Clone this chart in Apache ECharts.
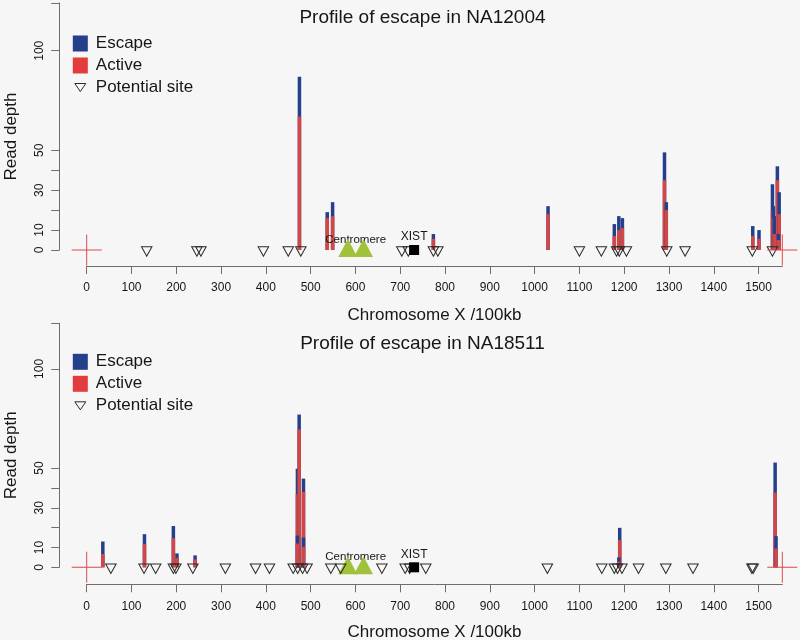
<!DOCTYPE html>
<html>
<head>
<meta charset="utf-8">
<script src="https://cdn.jsdelivr.net/npm/echarts@6/dist/echarts.min.js"></script>
<style>
html,body{margin:0;padding:0;background:#f6f6f6;}
#chart{width:800px;height:640px;}
</style>
</head>
<body>
<div id="chart"></div>
<script>
// ---------------- data ----------------
const panelTitles = ['Profile of escape in NA12004', 'Profile of escape in NA18511'];
const xAxisName = 'Chromosome X /100kb';
const yAxisName = 'Read depth';
const legendNames = ['Escape', 'Active', 'Potential site'];
const yTickValues = [0, 10, 20, 30, 40, 50, 100];
const yLabelValues = [0, 10, 30, 50, 100];
const chromStart = 0;
const chromEnd = 1553;
const centromere = [583, 618];
const centromereLabel = 'Centromere';
const xistPos = 731;
const xistLabel = 'XIST';

// NA12004 : bar position, total read depth (top of blue), active read depth (top of red)
const na12004Pos    = [475, 537, 549, 774, 1030, 1178, 1188, 1196, 1290, 1294, 1487, 1501, 1531, 1542, 1546, 1533, 1535, 1544];
const na12004Total  = [87, 19, 24, 8, 22, 13, 17, 16, 49, 24, 12, 10, 33, 42, 29, 22, 17, 8];
const na12004Active = [67, 16, 17, 5.6, 18, 7, 10, 11, 35, 20, 7, 5.6, 20, 35, 18, 16, 8, 5];
const na12004Sites  = [134, 246, 255, 394.5, 450, 478, 703.5, 718, 774, 784, 1100, 1149, 1183, 1189, 1205, 1295, 1336, 1486, 1531];

// NA18511
const na18511Pos    = [36, 129, 193.5, 201.5, 242, 470.5, 474.3, 484, 1190, 1537, 470.5, 484, 1188, 1539];
const na18511Total  = [13, 16.7, 20.8, 7, 6, 49.7, 77, 44.7, 19.9, 52.8, 16, 15, 5, 15.7];
const na18511Active = [6.7, 11.7, 14.7, 4.7, 4, 36.8, 69.5, 38, 13.7, 37.7, 12, 10.3, 2.8, 9.5];
const na18511Sites  = [54, 128, 154, 193.5, 199, 237, 309.6, 377, 408, 461, 471, 482, 492, 545, 567, 659, 711, 721, 757, 1028.5, 1150, 1178, 1185, 1195, 1232, 1293, 1353.6, 1485, 1488];

// ---------------- styles / layout ----------------
const FONT = '"Liberation Sans", Arial, Helvetica, sans-serif';
const BLUE = '#243f8b';
const RED_BAR = '#d24646';
const RED_LEG = '#e23c3c';
const GREEN = '#9fc23a';
const CROSS = '#e04848';
const AXIS_COL = '#6e6e6e';
const TEXT_COL = '#161616';
const DOWN_TRI = 'path://M0,0 L10,0 L5,9 Z';
const LEG_TRI = 'path://M0,0 M15,16 M2,4 L13,4 L7.5,12 Z';
const CROSS_PATH = 'path://M0,15 L30,15 M15,0 L15,30';

const layout = [
  {gridTop: 2.9, zeroY: 250, yMax: 124, xOffset: 16, xLabelMargin: 15.5, xNameGap: 40.5, legendTop: 35, titleY: 17.3},
  {gridTop: 323.3, zeroY: 567.3, yMax: 123, xOffset: 17, xLabelMargin: 16.5, xNameGap: 40, legendTop: 353.3, titleY: 343.3}
];
const GRID_LEFT = 86.7, GRID_RIGHT_X = 782.3, Y_AXIS_X = 59.3;

const panels = [
  {pos: na12004Pos, total: na12004Total, active: na12004Active, sites: na12004Sites},
  {pos: na18511Pos, total: na18511Total, active: na18511Active, sites: na18511Sites}
];

function renderBar(params, api) {
  const x = api.value(0), total = api.value(1), active = api.value(2);
  const base = api.coord([x, 0]);
  const top = api.coord([x, total]);
  const mid = api.coord([x, active]);
  const w = 3.5;
  return {
    type: 'group',
    children: [
      {type: 'rect', shape: {x: base[0] - w / 2, y: top[1], width: w, height: base[1] - top[1]}, style: {fill: BLUE}},
      {type: 'rect', shape: {x: base[0] - w / 2, y: mid[1], width: w, height: base[1] - mid[1]}, style: {fill: RED_BAR}}
    ]
  };
}

const grids = [], xAxes = [], yAxes = [], series = [], legends = [], graphics = [];

panels.forEach((p, i) => {
  const L = layout[i];
  grids.push({left: GRID_LEFT, width: GRID_RIGHT_X - GRID_LEFT, top: L.gridTop, height: L.zeroY - L.gridTop,
              containLabel: false, outerBoundsMode: 'none', show: false});
  xAxes.push({
    type: 'value', gridIndex: i, min: chromStart, max: chromEnd, interval: 100, position: 'bottom',
    offset: L.xOffset,
    name: xAxisName, nameLocation: 'middle', nameGap: L.xNameGap, nameMoveOverlap: false,
    nameTextStyle: {fontSize: 17, color: TEXT_COL, fontFamily: FONT},
    axisLine: {show: true, onZero: false, lineStyle: {color: AXIS_COL, width: 1}},
    axisTick: {show: true, inside: false, length: 8, lineStyle: {color: AXIS_COL, width: 1}},
    axisLabel: {show: true, margin: L.xLabelMargin, fontSize: 12, color: TEXT_COL, fontFamily: FONT,
                hideOverlap: false, showMinLabel: true, showMaxLabel: false,
                formatter: v => (v % 100 === 0 ? String(v) : '')},
    splitLine: {show: false}
  });
  yAxes.push({
    type: 'value', gridIndex: i, min: 0, max: L.yMax, position: 'left', offset: GRID_LEFT - Y_AXIS_X,
    name: yAxisName, nameLocation: 'middle', nameRotate: 90, nameGap: 39.5, nameMoveOverlap: false,
    nameTextStyle: {fontSize: 17, color: TEXT_COL, fontFamily: FONT, padding: [0, 20, 0, 0]},
    axisLine: {show: true, onZero: false, lineStyle: {color: AXIS_COL, width: 1}},
    axisTick: {show: true, inside: false, length: 8, customValues: yTickValues.concat([L.yMax]),
               lineStyle: {color: AXIS_COL, width: 1}},
    axisLabel: {show: true, rotate: 90, margin: 14, fontSize: 12, color: TEXT_COL, fontFamily: FONT,
                customValues: yLabelValues, hideOverlap: false},
    splitLine: {show: false}
  });

  // legend-only series
  series.push({type: 'bar', name: legendNames[0], xAxisIndex: i, yAxisIndex: i, data: [], itemStyle: {color: BLUE}});
  series.push({type: 'bar', name: legendNames[1], xAxisIndex: i, yAxisIndex: i, data: [], itemStyle: {color: RED_LEG}});

  // read depth bars
  series.push({
    type: 'custom', name: 'depth' + i, xAxisIndex: i, yAxisIndex: i, silent: true,
    renderItem: renderBar, encode: {x: 0, y: 1},
    data: p.pos.map((x, k) => [x, p.total[k], p.active[k]]), z: 2
  });

  // centromere label (under the triangles)
  series.push({
    type: 'scatter', name: 'centLabel' + i, xAxisIndex: i, yAxisIndex: i, silent: true, clip: false,
    symbolSize: 1, itemStyle: {color: 'rgba(0,0,0,0)', opacity: 1},
    data: [[(centromere[0] + centromere[1]) / 2, 0]], z: 3,
    label: {show: true, position: 'inside', offset: [0, -10], formatter: centromereLabel,
            fontSize: 11.5, color: TEXT_COL, opacity: 1, fontFamily: FONT}
  });
  // centromere triangles
  series.push({
    type: 'scatter', name: 'centromere' + i, xAxisIndex: i, yAxisIndex: i, silent: true, clip: false,
    symbol: 'triangle', symbolSize: [19, 18], symbolOffset: [0, -2],
    itemStyle: {color: GREEN, opacity: 1}, data: centromere.map(c => [c, 0]), z: 4
  });
  // potential sites
  series.push({
    type: 'scatter', name: legendNames[2], xAxisIndex: i, yAxisIndex: i, silent: true, clip: false,
    symbol: DOWN_TRI, symbolSize: [10.5, 9.5], symbolOffset: [0, 1.5],
    itemStyle: {color: 'rgba(0,0,0,0)', borderColor: '#2a2a2a', borderWidth: 1, opacity: 1},
    data: p.sites.map(s => [s, 0]), z: 5
  });
  // XIST
  series.push({
    type: 'scatter', name: 'xist' + i, xAxisIndex: i, yAxisIndex: i, silent: true, clip: false,
    symbol: 'rect', symbolSize: [10, 10], itemStyle: {color: '#000', opacity: 1},
    data: [[xistPos, 0]], z: 6,
    label: {show: true, position: 'inside', offset: [0, -13], formatter: xistLabel,
            fontSize: 12, color: TEXT_COL, fontFamily: FONT}
  });
  // chromosome ends
  series.push({
    type: 'scatter', name: 'ends' + i, xAxisIndex: i, yAxisIndex: i, silent: true, clip: false,
    symbol: CROSS_PATH, symbolSize: [30, 31],
    itemStyle: {color: 'none', borderColor: CROSS, borderWidth: 1, opacity: 1},
    data: [[chromStart, 0], [chromEnd, 0]], z: 6
  });

  legends.push({
    orient: 'vertical', left: 72.3, top: L.legendTop, padding: 0, itemGap: 5,
    itemWidth: 15, itemHeight: 16, selectedMode: false,
    textStyle: {fontSize: 17, color: TEXT_COL, fontFamily: FONT, padding: [0, 0, 0, 3]},
    data: [
      {name: legendNames[0], icon: 'rect', itemStyle: {color: BLUE, borderWidth: 0}},
      {name: legendNames[1], icon: 'rect', itemStyle: {color: RED_LEG, borderWidth: 0}},
      {name: legendNames[2], icon: LEG_TRI, itemStyle: {color: 'rgba(0,0,0,0)', borderColor: '#2a2a2a', borderWidth: 1}}
    ]
  });

  graphics.push({
    type: 'text', x: 422.5, y: L.titleY, silent: true,
    style: {text: panelTitles[i], fill: TEXT_COL, font: '19px ' + FONT,
            textAlign: 'center', align: 'center', textVerticalAlign: 'middle', verticalAlign: 'middle'}
  });
});

const chart = echarts.init(document.getElementById('chart'), null, {renderer: 'canvas'});
chart.setOption({
  backgroundColor: '#f6f6f6',
  animation: false,
  tooltip: {show: false},
  grid: grids,
  xAxis: xAxes,
  yAxis: yAxes,
  legend: legends,
  graphic: graphics,
  series: series
});
</script>
</body>
</html>
